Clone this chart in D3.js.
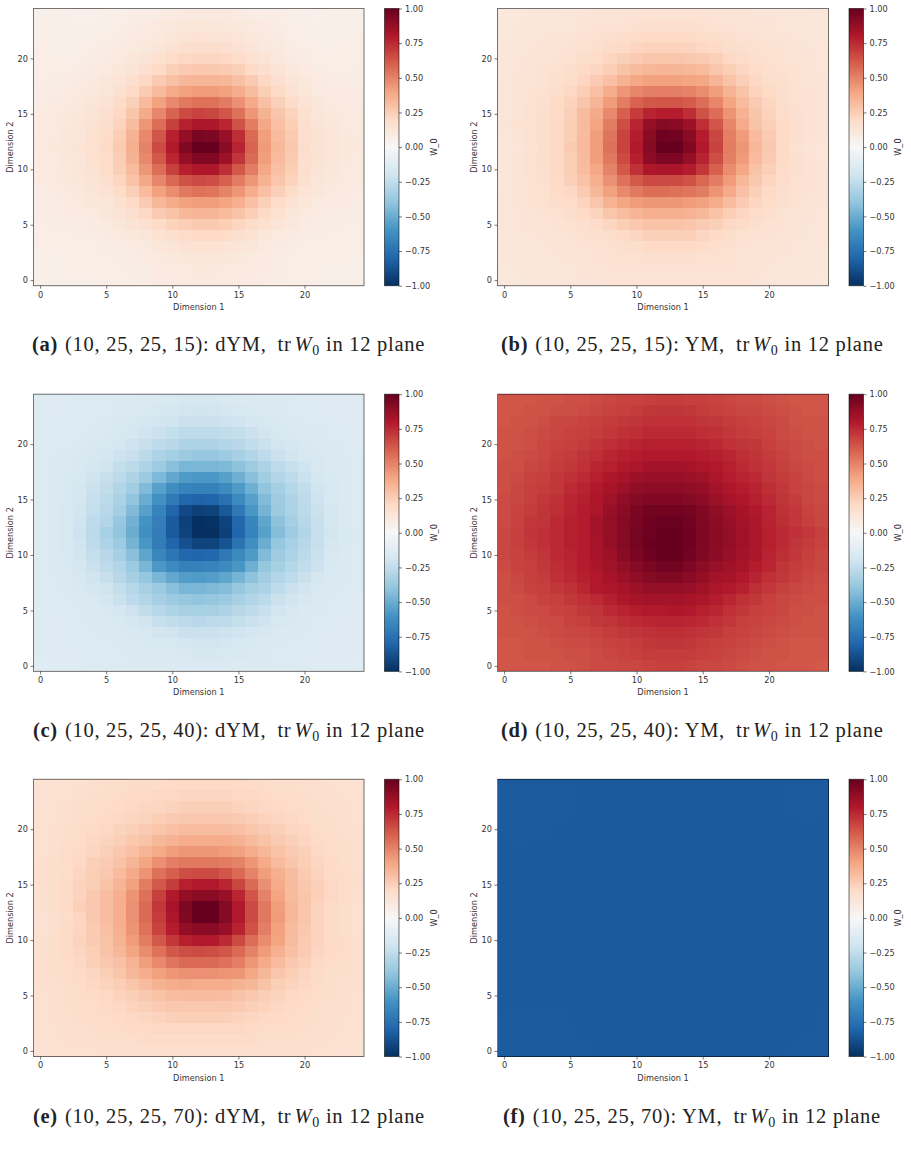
<!DOCTYPE html>
<html>
<head>
<meta charset="utf-8">
<script src="https://cdn.jsdelivr.net/npm/d3@7"></script>
<style>
html,body{margin:0;padding:0;background:#fff}
svg{display:block}
text{font-family:"DejaVu Sans",sans-serif;fill:#333}
text.cap{font-family:"Liberation Serif",serif;fill:#222;letter-spacing:0.72px}
</style>
</head>
<body>
<div id="chart"></div>
<script>
// W_0 traces, in percent, one line per row from Dimension 2 = 24 down to 0.
const traceA = `
6 6 6 5 5 6 6 7 8 8 9 10 10 10 10 9 8 8 7 6 6 5 6 6 6
6 6 6 6 6 6 7 8 9 10 11 12 12 12 11 11 10 9 8 7 6 6 6 6 6
6 6 6 6 6 7 8 9 10 11 13 14 15 14 14 13 11 10 9 7 6 6 6 6 7
7 6 6 6 7 8 9 10 11 13 15 17 18 18 17 15 13 11 10 8 7 6 6 7 7
7 7 6 7 8 9 10 12 14 16 19 21 22 22 21 19 16 14 11 9 8 7 7 7 7
7 7 7 8 9 10 12 14 17 20 24 26 27 27 26 24 20 17 14 11 9 8 7 7 8
7 8 8 9 10 12 14 17 21 26 30 33 34 34 33 30 26 21 17 13 11 9 8 8 8
8 8 9 10 11 13 16 20 26 32 38 41 43 43 41 37 31 25 20 15 12 10 9 9 9
8 9 10 11 13 15 19 24 32 41 48 53 55 55 52 46 38 30 24 19 14 12 10 9 9
9 10 11 12 14 17 21 28 38 49 59 66 68 67 63 55 44 35 28 23 16 13 11 10 10
9 10 11 13 15 18 23 31 44 56 69 78 82 81 76 64 52 39 30 25 17 14 12 10 10
9 10 12 13 16 19 25 35 48 63 78 88 95 94 87 74 57 42 32 26 17 15 13 11 10
10 11 12 14 16 20 26 36 50 66 80 93 100 100 91 77 59 43 33 27 18 15 13 11 11
9 10 12 13 16 19 25 35 48 62 76 88 93 93 86 72 57 42 32 26 17 15 13 11 10
9 10 11 13 15 19 24 32 44 56 69 78 81 81 74 62 52 39 30 25 17 14 12 10 10
9 10 11 12 14 17 22 29 39 49 58 64 66 65 60 52 44 35 28 23 16 13 11 10 10
8 9 10 11 13 15 19 24 32 41 47 53 55 54 50 44 37 30 24 19 14 12 10 9 9
8 8 9 10 12 13 16 20 26 33 38 41 42 42 40 36 30 24 19 15 12 10 9 9 8
8 8 9 9 10 12 14 17 21 26 29 33 34 34 32 29 25 20 16 12 10 9 8 8 8
7 8 8 8 9 10 12 14 16 19 23 25 26 26 25 22 19 16 13 11 9 8 8 7 7
7 7 7 8 8 9 10 11 13 15 17 19 20 20 19 17 15 12 10 9 8 8 7 7 7
7 7 7 7 7 8 8 9 10 12 13 15 15 15 14 13 12 10 9 8 7 7 7 7 7
6 6 7 7 7 7 8 8 9 10 11 12 12 12 12 11 10 9 8 7 7 7 7 7 6
6 6 7 7 7 7 7 8 8 9 10 10 11 11 10 10 9 9 8 7 7 7 6 6 6
6 6 6 6 6 7 7 7 8 9 9 10 10 10 10 9 9 8 8 7 7 6 6 6 6`;

const traceB = `
11 11 12 12 12 13 13 14 14 14 15 15 15 15 15 15 14 14 14 13 13 13 13 12 12
11 12 12 13 13 13 14 15 15 15 16 17 17 17 17 16 15 15 14 14 14 13 13 13 12
11 12 13 13 14 14 15 16 17 18 19 20 20 20 20 19 18 17 15 15 14 14 13 13 12
12 12 13 14 14 15 16 17 19 20 22 23 23 23 23 21 20 18 17 16 15 15 14 13 13
12 13 14 14 15 16 18 19 22 24 26 28 28 28 27 26 24 21 19 17 16 15 14 14 13
12 13 14 15 16 18 20 22 25 29 32 33 34 34 33 32 28 25 22 19 17 16 15 14 13
13 14 14 15 17 19 22 26 30 35 39 41 41 41 40 39 34 29 25 21 18 17 15 14 14
13 14 15 16 18 21 25 30 37 44 49 51 51 51 50 47 42 35 29 23 20 18 16 15 14
13 14 15 17 20 23 28 34 43 52 59 62 63 63 61 56 49 40 32 26 22 18 16 15 14
13 14 16 18 20 24 31 38 48 60 70 77 79 79 74 64 56 45 35 28 23 19 17 15 14
13 15 16 18 21 25 32 40 52 65 77 88 92 91 86 74 63 49 38 29 24 20 17 15 14
13 14 16 18 21 25 32 42 54 68 79 91 98 97 91 79 67 51 43 32 26 20 17 15 14
12 13 15 18 21 26 32 42 55 68 80 92 100 100 93 80 68 52 44 33 27 20 16 14 13
12 14 16 18 21 25 32 42 53 66 78 90 94 94 88 77 65 51 43 32 26 20 17 15 13
12 14 16 18 21 25 31 39 50 62 73 81 82 82 79 71 60 47 39 29 24 19 17 15 14
12 14 15 17 20 24 29 36 46 55 62 66 66 66 64 58 52 43 33 27 22 19 16 15 14
13 14 15 16 19 21 26 33 41 48 53 56 56 55 54 52 45 38 30 24 20 18 16 15 14
13 14 15 16 18 19 23 28 35 40 43 44 44 44 43 41 37 31 26 22 19 17 15 14 14
13 13 14 15 16 18 20 23 28 31 34 36 36 36 35 33 29 25 22 19 17 15 14 14 13
13 13 14 14 15 16 17 19 22 25 27 29 29 29 28 26 24 21 19 17 15 15 14 13 13
12 13 13 14 14 15 16 17 18 20 22 24 24 24 24 22 20 18 16 15 15 14 14 13 13
12 12 13 13 14 14 15 15 16 17 18 20 20 20 20 19 17 16 15 14 14 14 13 13 12
12 12 12 13 13 14 14 15 15 16 16 17 17 17 17 16 16 15 14 14 14 13 13 12 12
11 12 12 12 13 13 14 14 15 15 15 15 15 15 15 15 15 15 14 14 13 13 13 12 12
11 11 12 12 12 13 13 13 14 14 14 14 14 14 14 14 14 14 14 13 13 12 12 12 11`;

const traceC = `
-13 -13 -13 -14 -14 -14 -14 -14 -15 -15 -16 -17 -17 -17 -16 -15 -15 -14 -14 -14 -13 -13 -13 -13 -13
-13 -13 -14 -14 -14 -14 -15 -15 -16 -17 -18 -19 -20 -19 -18 -17 -16 -15 -15 -14 -14 -14 -13 -13 -13
-13 -14 -14 -14 -14 -15 -16 -17 -18 -19 -20 -22 -22 -22 -21 -20 -18 -17 -16 -15 -14 -14 -14 -13 -13
-13 -14 -14 -14 -15 -16 -17 -18 -20 -22 -24 -26 -26 -26 -25 -24 -22 -19 -17 -16 -15 -15 -14 -14 -13
-13 -14 -14 -15 -16 -17 -18 -21 -23 -26 -28 -31 -32 -31 -30 -28 -25 -22 -19 -18 -16 -15 -15 -14 -13
-14 -14 -15 -16 -17 -18 -21 -23 -27 -31 -34 -37 -38 -38 -36 -33 -30 -26 -22 -19 -17 -16 -15 -14 -14
-14 -15 -15 -16 -18 -20 -24 -27 -31 -36 -42 -46 -46 -46 -45 -41 -36 -31 -26 -23 -20 -17 -15 -15 -14
-14 -15 -16 -17 -20 -23 -27 -31 -37 -45 -52 -57 -58 -58 -55 -49 -42 -35 -30 -26 -22 -18 -16 -15 -14
-14 -15 -16 -18 -22 -25 -30 -35 -44 -55 -63 -67 -68 -68 -64 -57 -49 -40 -34 -29 -25 -20 -17 -15 -14
-14 -15 -16 -18 -23 -27 -32 -40 -50 -61 -71 -79 -81 -80 -75 -64 -55 -44 -36 -31 -26 -21 -17 -15 -14
-14 -15 -17 -19 -24 -28 -34 -44 -55 -67 -80 -91 -94 -93 -85 -72 -59 -47 -37 -32 -27 -22 -18 -15 -14
-14 -15 -17 -20 -26 -30 -38 -48 -60 -69 -84 -94 -100 -99 -93 -79 -66 -53 -41 -34 -28 -23 -18 -15 -14
-13 -15 -17 -21 -27 -33 -40 -50 -62 -70 -84 -93 -100 -100 -94 -80 -67 -55 -43 -36 -30 -23 -19 -16 -15
-14 -15 -17 -20 -26 -31 -37 -47 -59 -70 -80 -88 -93 -93 -87 -74 -62 -50 -39 -33 -28 -23 -18 -16 -14
-14 -15 -16 -19 -24 -28 -33 -42 -53 -66 -73 -79 -80 -79 -72 -64 -57 -44 -36 -31 -27 -22 -17 -15 -14
-14 -15 -16 -18 -22 -26 -30 -37 -46 -58 -64 -68 -68 -67 -64 -59 -49 -39 -34 -29 -25 -21 -16 -15 -14
-14 -14 -15 -17 -20 -23 -28 -34 -39 -46 -52 -56 -57 -56 -53 -47 -41 -35 -30 -26 -22 -18 -15 -15 -14
-14 -14 -15 -16 -18 -20 -24 -29 -33 -37 -42 -46 -46 -45 -43 -38 -34 -31 -26 -22 -19 -16 -15 -14 -14
-13 -14 -14 -15 -16 -18 -22 -26 -30 -33 -36 -38 -40 -39 -37 -33 -30 -27 -22 -19 -17 -15 -14 -14 -13
-13 -14 -14 -14 -15 -16 -18 -21 -25 -28 -31 -33 -33 -33 -31 -28 -26 -23 -19 -17 -15 -15 -14 -14 -13
-13 -13 -14 -14 -15 -15 -16 -18 -20 -23 -25 -27 -28 -27 -26 -24 -22 -20 -17 -16 -15 -14 -14 -13 -13
-13 -13 -14 -14 -14 -15 -15 -16 -17 -19 -20 -22 -22 -22 -21 -20 -18 -17 -15 -15 -14 -14 -13 -13 -13
-13 -13 -13 -14 -14 -14 -15 -15 -16 -16 -17 -18 -19 -19 -18 -17 -16 -15 -15 -14 -14 -13 -13 -13 -13
-13 -13 -13 -13 -14 -14 -14 -15 -15 -15 -15 -16 -17 -17 -16 -16 -15 -15 -14 -14 -14 -13 -13 -13 -13
-12 -13 -13 -13 -14 -14 -14 -14 -14 -14 -14 -15 -15 -15 -15 -14 -14 -14 -14 -14 -13 -13 -13 -13 -12`;

const traceD = `
63 63 63 64 64 65 65 66 67 68 68 69 70 70 69 69 68 67 66 66 65 64 63 63 63
63 63 64 64 65 65 66 67 68 69 70 71 72 72 71 70 69 68 67 67 66 65 64 63 63
63 64 64 65 67 67 68 69 70 71 72 73 73 73 73 72 71 70 69 68 67 66 64 64 64
64 64 65 66 67 68 69 70 71 73 74 75 75 75 75 74 73 71 70 69 68 66 65 64 64
64 64 65 67 68 69 70 72 74 75 77 78 78 78 78 77 75 73 72 71 69 67 66 65 64
64 65 66 67 69 70 72 74 76 78 79 80 80 80 80 79 78 76 74 72 70 68 66 65 65
65 65 67 68 70 71 73 76 78 80 82 84 84 84 83 82 80 78 75 73 71 69 67 66 65
65 66 68 69 71 73 75 78 81 83 86 87 87 87 86 85 82 79 77 75 72 70 68 66 65
65 67 69 70 71 75 77 80 83 86 89 90 90 90 89 88 84 81 79 77 74 71 68 67 66
66 67 69 71 73 76 78 81 85 89 92 93 93 93 92 90 86 83 81 78 75 72 70 67 66
66 68 70 72 74 77 79 82 87 91 95 97 97 97 96 93 89 86 83 80 77 73 71 68 67
66 68 71 72 75 78 79 84 88 92 95 98 99 99 97 93 90 87 84 81 77 74 71 69 67
67 69 72 73 75 78 79 84 88 92 96 98 100 100 98 94 91 88 85 82 78 75 73 71 69
67 69 71 73 75 78 79 83 88 92 96 99 100 100 98 94 91 88 85 82 78 75 72 70 68
67 68 70 72 75 77 79 83 86 91 95 98 100 100 97 93 90 87 84 81 77 74 71 69 67
66 68 69 71 74 76 79 82 85 88 92 95 97 97 94 90 87 85 83 79 76 72 70 68 67
65 67 69 70 73 75 78 80 83 86 89 92 93 93 91 88 84 83 80 77 73 71 69 67 66
65 66 68 69 71 73 76 80 81 83 86 88 88 88 87 85 82 80 78 74 71 69 67 66 65
65 65 66 68 69 71 73 75 78 81 83 84 84 84 83 82 79 76 73 71 69 67 66 65 65
64 65 66 66 68 69 71 72 75 77 79 80 80 81 80 78 76 73 71 69 68 67 65 65 64
64 64 65 66 66 68 69 71 72 74 75 76 77 77 76 75 73 71 69 68 67 66 65 64 64
64 64 64 65 66 67 67 68 70 71 72 73 74 74 73 72 71 69 68 67 66 65 64 64 64
63 63 64 64 65 66 66 67 68 69 70 71 72 72 71 70 69 68 67 66 65 64 63 63 63
63 63 64 64 64 65 65 66 67 68 69 70 70 70 70 69 68 67 66 65 64 64 63 63 63
63 63 63 63 64 64 65 66 66 67 67 68 69 69 68 67 67 66 65 64 64 63 63 63 62`;

const traceE = `
15 15 16 16 17 18 18 19 19 19 20 20 20 20 20 20 19 19 18 18 17 17 16 16 15
15 16 16 17 18 18 19 20 20 21 21 22 22 22 22 21 21 20 19 19 18 17 17 16 16
15 16 17 18 18 19 20 21 22 22 23 24 24 24 24 23 22 21 20 19 19 18 17 17 16
16 16 17 18 19 20 21 22 23 25 26 27 27 27 27 26 25 23 22 21 19 18 18 17 16
16 17 18 19 20 21 23 24 26 28 30 31 31 31 31 30 28 26 24 22 21 19 18 17 17
16 17 18 19 21 23 25 27 29 33 35 37 37 37 37 35 32 29 26 24 22 20 19 18 17
16 17 19 20 22 24 27 30 34 38 42 44 44 44 43 41 37 33 29 26 24 21 19 18 17
17 18 19 21 24 26 29 34 40 46 51 53 53 53 52 50 44 38 32 28 25 22 20 18 17
17 18 19 22 25 27 32 38 45 55 60 65 66 66 63 57 50 42 36 31 26 23 20 19 18
17 18 20 23 25 29 34 41 52 62 70 78 80 80 76 67 57 46 38 32 27 24 21 19 18
16 18 20 23 27 31 36 45 55 69 80 88 91 91 87 76 63 50 40 32 28 24 21 19 17
16 18 20 24 27 31 36 46 57 71 83 94 100 100 92 80 66 53 42 33 28 23 20 18 16
15 17 19 22 27 31 36 46 57 70 82 93 100 100 92 80 66 53 43 33 28 23 20 18 16
15 17 20 22 26 30 36 45 55 68 79 88 91 91 87 77 64 51 41 32 27 23 20 18 16
16 18 20 23 26 29 35 43 52 62 71 78 80 80 75 66 56 47 40 31 26 23 20 19 17
16 18 20 22 25 29 33 40 47 55 62 65 66 65 63 57 50 43 36 30 26 22 20 19 17
17 18 19 21 24 27 30 35 42 48 54 57 57 57 55 51 44 38 32 27 24 21 19 18 17
17 18 19 20 22 25 28 33 37 41 44 46 46 46 45 44 39 33 28 25 22 20 18 18 17
17 17 18 19 21 23 25 28 32 35 37 38 37 37 37 35 33 29 25 23 21 19 18 17 17
16 17 18 19 20 21 23 25 27 29 31 32 32 32 31 29 27 25 23 21 20 19 18 17 16
16 17 18 19 19 20 21 23 24 26 27 27 27 27 27 26 24 23 21 20 19 18 17 17 16
16 17 17 18 19 19 20 21 22 23 24 25 25 25 24 23 22 21 20 19 19 18 17 16 16
16 16 17 17 18 19 19 20 20 21 21 21 21 21 21 21 20 19 19 19 18 17 17 16 16
15 16 17 17 17 18 18 18 19 19 19 19 19 19 19 19 19 18 18 18 17 17 16 16 15
15 15 16 16 16 17 17 17 17 17 17 17 17 17 17 17 17 17 17 17 17 16 16 15 15`;

const traceF = `
-83.7 -83.7 -83.7 -83.7 -83.7 -83.7 -84 -84 -84 -84 -84 -84 -84 -84 -84 -84 -84 -84 -84 -84 -84 -84 -83.7 -83.7 -83.7
-83.7 -83.7 -83.7 -83.7 -83.7 -83.7 -84 -84 -84 -84 -84 -84 -84 -84 -84 -84 -84 -84 -84 -84 -84 -84 -83.7 -83.7 -83.7
-83.7 -83.7 -83.7 -83.7 -83.7 -83.7 -84 -84 -84 -84 -84 -84 -84 -84 -84 -84 -84 -84 -84 -84 -84 -84 -83.7 -83.7 -83.7
-83.7 -83.7 -83.7 -83.7 -83.7 -84 -84 -84 -84 -84 -84 -84 -84 -84 -84 -84 -84 -84 -84 -84 -84 -84 -84 -83.7 -84
-83.7 -83.7 -83.7 -83.7 -84 -84 -84 -84 -84 -84 -84 -84 -84 -84 -84 -84 -84 -84 -84 -84 -84 -84 -84 -84 -84
-84 -83.7 -84 -84 -84 -84 -84 -84 -84 -84 -84 -84 -84 -84 -84 -84 -84 -84 -84 -84 -84 -84 -84 -84 -84
-84 -84 -84 -84 -84 -84 -84 -84 -84 -84 -84 -84 -84 -84 -84 -84 -84 -84 -84 -84 -84 -84 -84 -84 -84
-84 -84 -84 -84 -84 -84 -84 -84 -84 -84 -84 -84 -84 -84 -84 -84 -84 -84 -84 -84 -84 -84 -84 -84 -84
-84 -84 -84 -84 -84 -84 -84 -84 -84 -84 -84 -84 -84 -84 -84.4 -84 -84 -84 -84 -84 -84 -84 -84 -84 -84
-84 -84 -84 -84 -84 -84 -84 -84 -84 -84 -84 -84 -84.4 -84.4 -84.4 -84.4 -84 -84 -84 -84 -84 -84 -84 -84 -84
-84 -84 -84 -84 -84 -84 -84 -84 -84 -84 -84 -84.4 -84.4 -84.4 -84.4 -84.4 -84.4 -84.4 -84 -84 -84 -84 -84 -84 -84
-84 -84 -84 -84 -84 -84 -84 -84 -84 -84 -84.4 -84.4 -84.4 -84.4 -84.4 -84.4 -84.4 -84.4 -84.4 -84 -84 -84 -84 -84 -84
-84 -84 -84 -84 -84 -84 -84 -84 -84 -84 -84.4 -84.4 -84.4 -84.4 -84.4 -84.4 -84.4 -84.4 -84 -84 -84 -84 -84 -84 -84
-84 -84 -84 -84 -84 -84 -84 -84 -84 -84.4 -84.4 -84.4 -84.4 -84.4 -84.4 -84.4 -84.4 -84.4 -84.4 -84 -84 -84 -84 -84 -84
-84 -84 -84 -84 -84 -84 -84 -84 -84 -84 -84.4 -84.4 -84.4 -84.4 -84.4 -84.4 -84.4 -84.4 -84.4 -84 -84 -84 -84 -84 -84
-84 -84 -84 -84 -84 -84 -84 -84 -84 -84 -84.4 -84.4 -84.4 -84.4 -84.4 -84.4 -84.4 -84 -84 -84 -84 -84 -84 -84 -84
-84 -84 -84 -84 -84 -84 -84 -84 -84 -84 -84 -84.4 -84.4 -84.4 -84.4 -84.4 -84.4 -84 -84 -84 -84 -84 -84 -84 -84
-84 -84 -84 -84 -84 -84 -84 -84 -84 -84 -84 -84 -84.4 -84.4 -84.4 -84.4 -84 -84 -84 -84 -84 -84 -84 -84 -84
-84 -84 -84 -84 -84 -84 -84 -84 -84 -84 -84 -84 -84 -84 -84 -84 -84 -84 -84 -84 -84 -84 -84 -84 -84
-84 -84 -84 -84 -84 -84 -84 -84 -84 -84 -84 -84 -84 -84 -84 -84 -84 -84 -84 -84 -84 -84 -84 -84 -84
-84 -84 -84 -84 -84 -84 -84 -84 -84 -84 -84 -84 -84 -84 -84 -84 -84 -84 -84 -84 -84 -84 -84 -84 -84
-83.7 -83.7 -83.7 -83.7 -83.7 -84 -84 -84 -84 -84 -84 -84 -84 -84 -84 -84 -84 -84 -84 -84 -84 -84 -84 -84 -83.7
-83.7 -83.7 -83.7 -83.7 -83.7 -83.7 -84 -84 -84 -84 -84 -84 -84 -84 -84 -84 -84 -84 -84 -84 -84 -84 -84 -84 -83.7
-83.7 -83.7 -83.7 -83.7 -83.7 -83.7 -84 -84 -84 -84 -84 -84 -84 -84 -84 -84 -84 -84 -84 -84 -84 -84 -84 -83.7 -83.7
-83.7 -83.7 -83.7 -83.7 -83.7 -83.7 -83.7 -84 -84 -84 -84 -84 -84 -84 -84 -84 -84 -84 -84 -84 -84 -84 -83.7 -83.7 -83.7`;

const letters = ["a", "b", "c", "d", "e", "f"];
const shapes = ["15", "15", "40", "40", "70", "70"];
const theories = ["dYM", "YM", "dYM", "YM", "dYM", "YM"];
const traces = [traceA, traceB, traceC, traceD, traceE, traceF];
const xTicks = [0, 5, 10, 15, 20];
const yTicks = [0, 5, 10, 15, 20];
const barTicks = [-1, -0.75, -0.5, -0.25, 0, 0.25, 0.5, 0.75, 1];
const rdbuStops = [-1, -0.8, -0.6, -0.4, -0.2, 0, 0.2, 0.4, 0.6, 0.8, 1];
const rdbuColors = ["#053061", "#2166ac", "#4393c3", "#92c5de", "#d1e5f0", "#f7f7f7", "#fddbc7", "#f4a582", "#d6604d", "#b2182b", "#67001f"];

const colour = d3.scaleLinear().domain(rdbuStops).range(rdbuColors);
const parseGrid = s => s.trim().split("\n").map(r => r.trim().split(/\s+/).map(v => +v / 100));

// Layout of the 3 x 2 grid of panels.
const colLeft = [33.5, 497.5];
const colRight = [364, 828.5];
const barLeft = [384.5, 849];
const barWidth = 14.5;
const rowTop = [8.5, 394.2, 779.3];
const plotHeight = 277.2;
const captionY = [351, 737, 1123];
const captionX = [32, 501, 33, 501, 33, 503];

const svg = d3.select("#chart").append("svg").attr("width", 911).attr("height", 1155);
const defs = svg.append("defs");
const grad = defs.append("linearGradient").attr("id", "rdbu")
  .attr("x1", 0).attr("x2", 0).attr("y1", 1).attr("y2", 0);
grad.selectAll("stop").data(rdbuStops).join("stop")
  .attr("offset", d => (d + 1) / 2)
  .attr("stop-color", d => colour(d));

const axisFont = 8.2;
const frame = g => g.attr("fill", "none").attr("stroke", "#000").attr("stroke-opacity", 0.55).attr("stroke-width", 1);

traces.forEach((src, i) => {
  const col = i % 2, row = Math.floor(i / 2);
  const grid = parseGrid(src);
  const top = rowTop[row], bottom = top + plotHeight;
  const x = d3.scaleLinear().domain([-0.5, 24.5]).range([colLeft[col], colRight[col]]);
  const y = d3.scaleLinear().domain([-0.5, 24.5]).range([bottom, top]);
  const g = svg.append("g");

  const cells = grid.flatMap((vals, r) => vals.map((v, c) => ({ c, dim2: 24 - r, v })));
  g.append("g").attr("shape-rendering", "crispEdges").selectAll("rect").data(cells).join("rect")
    .attr("x", d => x(d.c - 0.5))
    .attr("width", d => x(d.c + 0.5) - x(d.c - 0.5))
    .attr("y", d => y(d.dim2 + 0.5))
    .attr("height", d => y(d.dim2 - 0.5) - y(d.dim2 + 0.5))
    .attr("fill", d => colour(d.v));

  const styleAxis = a => {
    a.select(".domain").remove();
    a.selectAll("line").attr("stroke", "#555").attr("stroke-width", 0.8);
    a.selectAll("text").attr("font-size", axisFont).attr("fill", "#333");
  };

  g.append("g").attr("transform", `translate(0,${bottom})`)
    .call(d3.axisBottom(x).tickValues(xTicks).tickSize(3).tickPadding(3))
    .call(styleAxis);
  g.append("g").attr("transform", `translate(${colLeft[col]},0)`)
    .call(d3.axisLeft(y).tickValues(yTicks).tickSize(3).tickPadding(2.5))
    .call(styleAxis);

  g.append("rect").call(frame)
    .attr("x", colLeft[col]).attr("y", top)
    .attr("width", colRight[col] - colLeft[col]).attr("height", plotHeight);

  g.append("text").attr("x", (colLeft[col] + colRight[col]) / 2).attr("y", bottom + 24)
    .attr("text-anchor", "middle").attr("font-size", axisFont).text("Dimension 1");
  g.append("text")
    .attr("transform", `translate(${colLeft[col] - 21},${(top + bottom) / 2}) rotate(-90)`)
    .attr("text-anchor", "middle").attr("font-size", axisFont).text("Dimension 2");

  // Colour bar with its own value axis.
  const bar = d3.scaleLinear().domain([-1, 1]).range([bottom, top]);
  const bx = barLeft[col];
  g.append("rect").attr("x", bx).attr("y", top).attr("width", barWidth).attr("height", plotHeight)
    .attr("fill", "url(#rdbu)");
  g.append("g").attr("transform", `translate(${bx + barWidth},0)`)
    .call(d3.axisRight(bar).tickValues(barTicks).tickSize(3).tickPadding(3)
      .tickFormat(d => d3.format(".2f")(d).replace("-", "\u2212")))
    .call(styleAxis);
  g.append("rect").call(frame)
    .attr("x", bx).attr("y", top).attr("width", barWidth).attr("height", plotHeight);
  g.append("text")
    .attr("transform", `translate(${bx + barWidth + 37.5},${(top + bottom) / 2}) rotate(-90)`)
    .attr("text-anchor", "middle").attr("font-size", axisFont).text("W_0");

  // Caption: bold letter, shape and theory, then the trace in math type.
  const t = svg.append("text").attr("class", "cap").attr("y", captionY[row])
    .attr("x", captionX[i]).attr("font-size", 20.5);
  t.append("tspan").attr("font-weight", "bold").text(`(${letters[i]})`);
  t.append("tspan").attr("dx", 7).text(`(10, 25, 25, ${shapes[i]}): ${theories[i]},`);
  t.append("tspan").attr("dx", 11).text("tr");
  t.append("tspan").attr("dx", 3).attr("font-style", "italic").text("W");
  t.append("tspan").attr("dy", 3.5).attr("font-size", 14).text("0");
  t.append("tspan").attr("dy", -3.5).attr("dx", 6).text("in 12 plane");
});
</script>
</body>
</html>
